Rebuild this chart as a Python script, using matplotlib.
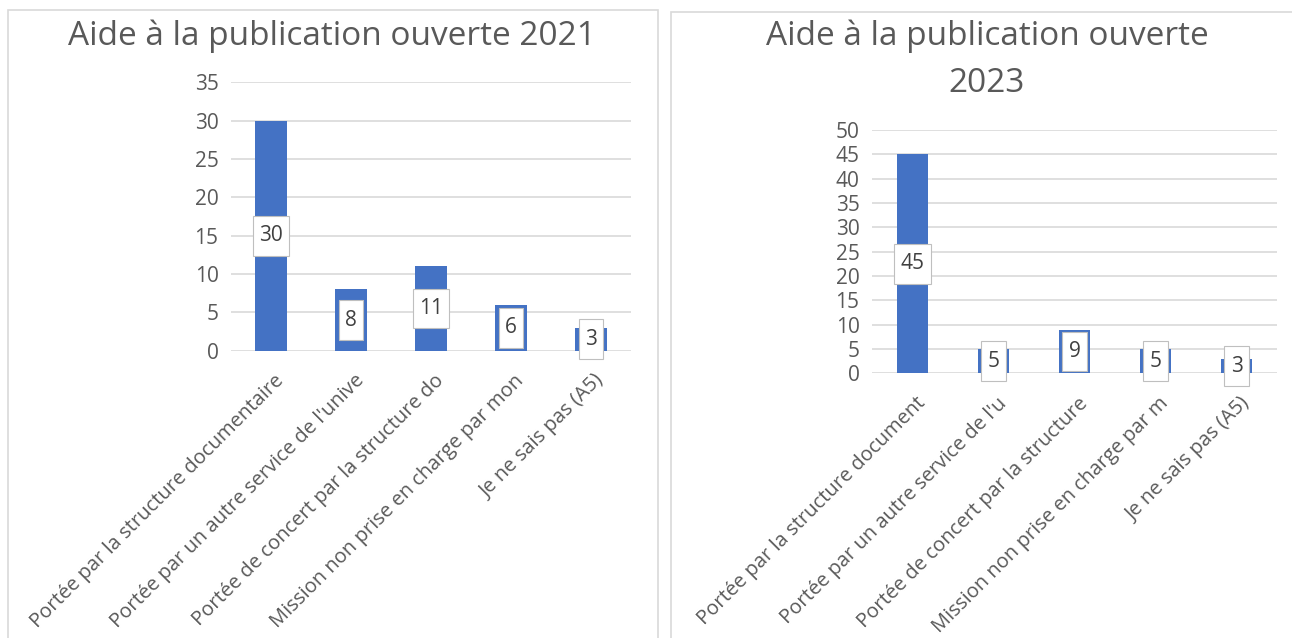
import matplotlib
matplotlib.use("Agg")
import matplotlib.pyplot as plt
from matplotlib.patches import Rectangle
from matplotlib.path import Path
from matplotlib.transforms import ScaledTranslation

# -------------------------------------------------------------------
# DATA
# -------------------------------------------------------------------
title_2021 = "Aide à la publication ouverte 2021"
labels_2021 = [
    "Portée par la structure documentaire",
    "Portée par un autre service de l'unive",
    "Portée de concert par la structure do",
    "Mission non prise en charge par mon",
    "Je ne sais pas (A5)",
]
values_2021 = [30, 8, 11, 6, 3]
yticks_2021 = [0, 5, 10, 15, 20, 25, 30, 35]

title_2023 = "Aide à la publication ouverte\n2023"
labels_2023 = [
    "Portée par la structure document",
    "Portée par un autre service de l'u",
    "Portée de concert par la structure",
    "Mission non prise en charge par m",
    "Je ne sais pas (A5)",
]
values_2023 = [45, 5, 9, 5, 3]
yticks_2023 = [0, 5, 10, 15, 20, 25, 30, 35, 40, 45, 50]

# -------------------------------------------------------------------
# STYLE
# -------------------------------------------------------------------
BAR = "#4472C4"
GRID = "#D9D9D9"
TEXT = "#595959"
FONT = ["Open Sans", "DejaVu Sans"]
plt.rcParams["font.family"] = FONT
SMALL = 15

W, H = 1292, 638
fig = plt.figure(figsize=(W / 100, H / 100), dpi=100)


def label_box(x0, y0, width, height, mutation_size):
    # Excel-like data label: tall white box around the number
    px = 0.3 * mutation_size
    py = 0.45 * mutation_size
    return Path(
        [
            (x0 - px, y0 - py),
            (x0 + width + px, y0 - py),
            (x0 + width + px, y0 + height + py),
            (x0 - px, y0 + height + py),
            (x0 - px, y0 - py),
        ],
        closed=True,
    )


def draw_chart(rect, values, labels, yticks, bar_width):
    ax = fig.add_axes(rect)
    x = range(len(values))
    ax.bar(x, values, width=bar_width, color=BAR, zorder=2)
    ax.set_xlim(-0.5, len(values) - 0.5)
    ax.set_ylim(yticks[0], yticks[-1])
    ax.set_yticks(yticks)
    ax.set_xticks([])
    ax.tick_params(axis="y", length=0, pad=9, labelsize=SMALL, labelcolor=TEXT)
    ax.grid(axis="y", color=GRID, linewidth=1.2, zorder=0)
    for s in ax.spines.values():
        s.set_visible(False)

    for i, v in enumerate(values):
        ax.text(
            i, v / 2, str(v), ha="center", va="center", fontsize=SMALL,
            color="#404040", zorder=3,
            bbox=dict(boxstyle=label_box, fc="white", ec="#BFBFBF", lw=0.8),
        )

    # rotated category labels, end anchored just under the tick
    shift = ScaledTranslation(0.03, -0.20, fig.dpi_scale_trans)
    for i, lab in enumerate(labels):
        ax.text(
            i, 0, lab, transform=ax.get_xaxis_transform() + shift,
            rotation=45, rotation_mode="anchor", ha="right", va="top",
            fontsize=14.5, color=TEXT, clip_on=False,
        )
    return ax


# panel frames
fig.patches.append(Rectangle((8 / W, -0.05), 650 / W, 1.05 - 10 / H,
                             transform=fig.transFigure, fill=False,
                             ec=GRID, lw=1.2))
fig.patches.append(Rectangle((671 / W, -0.05), 0.6, 1.05 - 12 / H,
                             transform=fig.transFigure, fill=False,
                             ec=GRID, lw=1.2))

draw_chart([231 / W, 1 - 350.8 / H, 400 / W, 268.5 / H],
           values_2021, labels_2021, yticks_2021, 0.4)
draw_chart([872 / W, 1 - 373.4 / H, 405 / W, 243.4 / H],
           values_2023, labels_2023, yticks_2023, 0.39)

fig.text(332 / W, 1 - 36 / H, title_2021, ha="center", va="center",
         fontsize=24, color=TEXT)
fig.text(987 / W, 1 - 60 / H, title_2023, ha="center", va="center",
         fontsize=24, color=TEXT, linespacing=1.55)

fig.savefig("out.png", dpi=100, facecolor="white")
